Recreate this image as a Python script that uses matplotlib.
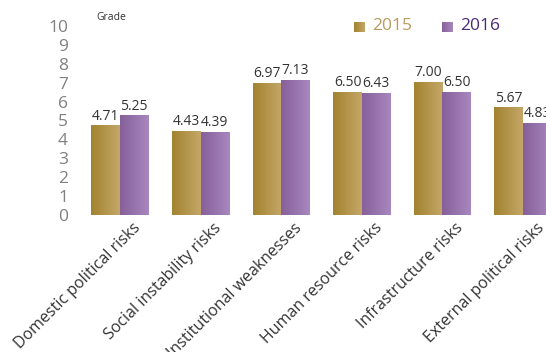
import numpy as np
import matplotlib
matplotlib.use("Agg")
import matplotlib.pyplot as plt
from matplotlib.colors import LinearSegmentedColormap

plt.rcParams['font.family'] = ['Open Sans', 'DejaVu Sans']

categories = ['Domestic political risks', 'Social instability risks', 'Institutional weaknesses',
              'Human resource risks', 'Infrastructure risks', 'External political risks']
years = ['2015', '2016']
grade_2015 = [4.71, 4.43, 6.97, 6.50, 7.00, 5.67]
grade_2016 = [5.25, 4.39, 7.13, 6.43, 6.50, 4.83]

# gradient ends (left -> right) for each series
gold = ['#a2832f', '#c4a768']
purple = ['#86609a', '#a887be']
text_cols = ['#b89b5e', '#4a2a78']

fig = plt.figure(figsize=(5.46, 3.52), dpi=100)
ax = fig.add_axes([0.0, 1 - 215 / 352, 1.0, (215 - 26) / 352])

x = np.arange(len(categories))
w = 0.354

bars15 = ax.bar(x - w / 2, grade_2015, w, color='none', edgecolor='none')
bars16 = ax.bar(x + w / 2, grade_2016, w, color='none', edgecolor='none')

grad = np.linspace(0, 1, 64).reshape(1, -1)
cmaps = [LinearSegmentedColormap.from_list('g', gold),
         LinearSegmentedColormap.from_list('p', purple)]
for bars, cmap in zip([bars15, bars16], cmaps):
    for b in bars:
        x0, h, bw = b.get_x(), b.get_height(), b.get_width()
        ax.imshow(grad, cmap=cmap, aspect='auto', extent=[x0, x0 + bw, 0, h], zorder=2)
        ax.text(x0 + bw / 2, h + 0.12, f'{h:.2f}', ha='center', va='bottom',
                fontsize=10, color='#333333', zorder=3)

# group spacing ~80.6px, first group centre at 120px; right edge clips the last bar
ax.set_xlim(-120 / 80.6, (546 - 120) / 80.6)
ax.set_ylim(0, 10)

for s in ax.spines.values():
    s.set_visible(False)
ax.set_xticks([])
ax.set_yticks(range(0, 11))
ax.tick_params(axis='y', length=0, labelsize=12.5, labelcolor='#808080', pad=-49)

for i, c in enumerate(categories):
    ax.text(i + 0.16, -0.25, c, rotation=45, rotation_mode='anchor', ha='right', va='top',
            fontsize=11.5, color='#333333')

fig.text(96 / 546, 1 - 17 / 352, 'Grade', fontsize=7.5, color='#333333', va='center')

# legend: gradient squares + coloured year labels
leg_x = [354, 442]
for px, yr, cmap, tc in zip(leg_x, years, cmaps, text_cols):
    lax = fig.add_axes([px / 546, 1 - 32 / 352, 10 / 546, 10 / 352])
    lax.imshow(grad, cmap=cmap, aspect='auto')
    lax.axis('off')
    fig.text((px + 18) / 546, 1 - 26.5 / 352, yr, fontsize=12.5, color=tc, va='center')

fig.savefig('out.png', dpi=100)
